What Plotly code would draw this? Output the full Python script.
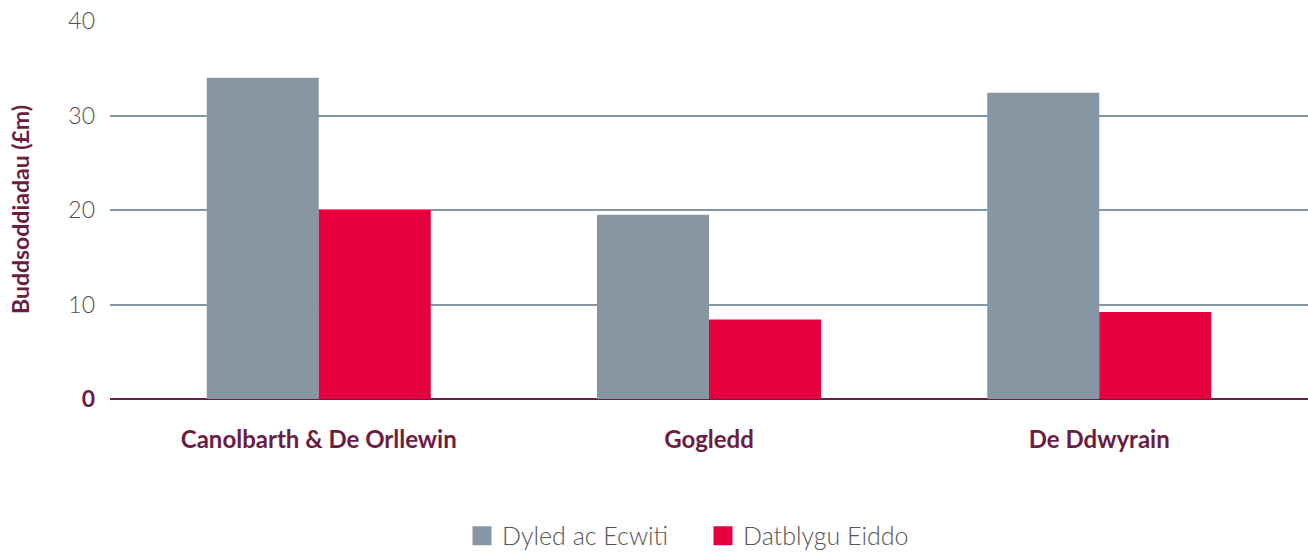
import plotly.graph_objects as go

categories = ["Canolbarth & De Orllewin", "Gogledd", "De Ddwyrain"]
dyled = [34.0, 19.5, 32.4]
datblygu = [20.0, 8.4, 9.2]
series_names = ["Dyled ac Ecwiti", "Datblygu Eiddo"]
y_ticks = [0, 10, 20, 30, 40]

GREY = "#8796a3"
RED = "#e4003d"
MAROON = "#6b1d42"
FONT = "Lato"

fig = go.Figure()
fig.add_trace(go.Bar(x=categories, y=dyled, name=series_names[0], showlegend=False,
                     marker=dict(color=GREY, line_width=0)))
fig.add_trace(go.Bar(x=categories, y=datblygu, name=series_names[1], showlegend=False,
                     marker=dict(color=RED, line_width=0)))
# legend entries with larger square swatches
for name, col in zip(series_names, [GREY, RED]):
    fig.add_trace(go.Scatter(x=[None], y=[None], mode="markers", name=name,
                             marker=dict(symbol="square", size=16, color=col,
                                         line=dict(color=col, width=3))))

ticktext = [f"<b><span style='color:{MAROON}'>{v}</span></b>" if v == 0 else str(v) for v in y_ticks]

fig.update_layout(
    width=1308, height=552,
    margin=dict(l=110, r=0, t=21, b=153),
    paper_bgcolor="white", plot_bgcolor="white",
    barmode="group", bargap=0.426, bargroupgap=0,
    font=dict(family=FONT, size=22, color="#555555"),
    showlegend=True,
    legend=dict(orientation="h", xref="container", yref="container", x=462 / 1308, y=0.029,
                xanchor="left", yanchor="middle", entrywidth=196, entrywidthmode="pixels",
                font=dict(family=FONT, size=25, color="#555555", weight=300),
                itemwidth=30, traceorder="normal"),
    xaxis=dict(type="category", range=[-0.535, 2.535], showgrid=False, showline=False,
               ticks="", tickfont=dict(family=FONT, size=24, color=MAROON, weight="bold"),
               ticklabelstandoff=24, fixedrange=True),
    yaxis=dict(range=[0, 40], tickvals=y_ticks, ticktext=ticktext, showgrid=True,
               gridcolor=GREY, gridwidth=1.5, zeroline=True, zerolinecolor=MAROON,
               zerolinewidth=1.5, showline=False, ticks="", ticklabelstandoff=14,
               tickfont=dict(family=FONT, size=23, color="#4f4f4f", weight=300), fixedrange=True),
    annotations=[dict(text="<b>Buddsoddiadau (£m)</b>", textangle=-90, xref="paper", yref="paper",
                      x=-0.0751, y=0.5, xanchor="center", yanchor="middle", showarrow=False,
                      font=dict(family=FONT, size=23, color=MAROON))],
)

fig.write_html("out.html", config={"displayModeBar": False},
               post_script="document.body.style.margin='0';document.body.style.overflow='hidden';")
